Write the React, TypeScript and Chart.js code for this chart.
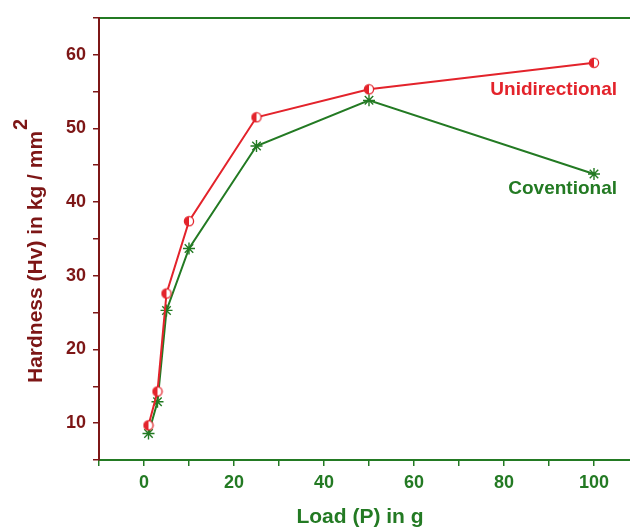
import React, { useEffect, useRef } from "react";
import { Chart, registerables } from "chart.js";

Chart.register(...registerables);

const loads = [1, 3, 5, 10, 25, 50, 100];
const unidirectional = [9.7, 14.3, 27.6, 37.4, 51.5, 55.3, 58.9];
const conventional = [8.6, 12.9, 25.3, 33.7, 47.6, 53.8, 43.8];
const xTicks = [-10, 0, 10, 20, 30, 40, 50, 60, 70, 80, 90, 100];
const yTicks = [5, 10, 15, 20, 25, 30, 35, 40, 45, 50, 55, 60, 65];
const seriesNames = ["Unidirectional", "Coventional"];
const xTitle = "Load (P) in g";
const yTitle = "Hardness (Hv) in kg / mm";
const yTitleSup = "2";

const RED = "#e3232b";
const GREEN = "#237a23";
const DARKRED = "#7d1616";
const FONT = "'Liberation Sans', Arial, sans-serif";

function halfCircle(): HTMLCanvasElement {
  const c = document.createElement("canvas");
  c.width = 12;
  c.height = 12;
  const g = c.getContext("2d")!;
  const cx = 6, cy = 6, r = 4.6;
  g.fillStyle = "#ffffff";
  g.beginPath();
  g.arc(cx, cy, r, 0, Math.PI * 2);
  g.fill();
  g.fillStyle = RED;
  g.beginPath();
  g.arc(cx, cy, r, Math.PI / 2, (Math.PI * 3) / 2);
  g.closePath();
  g.fill();
  g.strokeStyle = RED;
  g.lineWidth = 1.3;
  g.beginPath();
  g.arc(cx, cy, r, 0, Math.PI * 2);
  g.stroke();
  return c;
}

const textPlugin = {
  id: "texts",
  afterDraw(chart: any) {
    const ctx = chart.ctx as CanvasRenderingContext2D;
    ctx.save();
    // series labels
    ctx.font = `bold 19px ${FONT}`;
    ctx.textAlign = "right";
    ctx.textBaseline = "alphabetic";
    ctx.fillStyle = RED;
    ctx.fillText(seriesNames[0], 617, 95);
    ctx.fillStyle = GREEN;
    ctx.fillText(seriesNames[1], 617, 194);
    // x title
    ctx.font = `bold 21px ${FONT}`;
    ctx.textAlign = "center";
    ctx.fillStyle = GREEN;
    ctx.fillText(xTitle, 360, 523);
    // y title rotated
    ctx.translate(42, 383);
    ctx.rotate(-Math.PI / 2);
    ctx.textAlign = "left";
    ctx.fillStyle = DARKRED;
    ctx.font = `bold 21px ${FONT}`;
    ctx.fillText(yTitle, 0, 0);
    const w = ctx.measureText(yTitle).width;
    ctx.font = `bold 20px ${FONT}`;
    ctx.fillText(yTitleSup, w + 1, -15);
    ctx.restore();
  },
};

export default function App() {
  const ref = useRef<HTMLCanvasElement>(null);
  useEffect(() => {
    if (!ref.current) return;
    const marker = halfCircle();
    const chart = new Chart(ref.current, {
      type: "line",
      data: {
        datasets: [
          {
            label: seriesNames[0],
            data: loads.map((x, i) => ({ x, y: unidirectional[i] })),
            borderColor: RED,
            borderWidth: 2,
            pointStyle: marker as any,
            pointRadius: 5,
            tension: 0,
          },
          {
            label: seriesNames[1],
            data: loads.map((x, i) => ({ x, y: conventional[i] })),
            borderColor: GREEN,
            backgroundColor: GREEN,
            borderWidth: 2,
            pointStyle: "star",
            pointRadius: 6,
            pointBorderWidth: 1.4,
            pointBorderColor: GREEN,
            tension: 0,
          },
        ],
      },
      options: {
        responsive: false,
        animation: false,
        layout: { autoPadding: false, padding: { left: 0, right: 0, top: 16, bottom: 0 } },
        plugins: {
          legend: { display: false },
          tooltip: { enabled: false },
        },
        scales: {
          x: {
            type: "linear",
            position: "bottom",
            min: -10,
            max: 108,
            afterBuildTicks: (s: any) => {
              s.ticks = xTicks.map((v) => ({ value: v }));
            },
            afterFit: (s: any) => {
              s.height = 67;
            },
            ticks: {
              autoSkip: false,
              maxRotation: 0,
              padding: 6,
              color: GREEN,
              font: { family: FONT, size: 18, weight: "bold" },
              callback: (v: any) => (Number(v) % 20 === 0 ? String(v) : ""),
            },
            grid: {
              drawOnChartArea: false,
              drawTicks: true,
              tickLength: 6,
              color: GREEN,
              lineWidth: 1.5,
            },
            border: { display: true, color: GREEN, width: 2 },
          },
          x2: {
            type: "linear",
            position: "top",
            min: -10,
            max: 108,
            afterFit: (s: any) => {
              s.height = 0;
            },
            ticks: { display: false },
            grid: { display: false, drawTicks: false },
            border: { display: true, color: GREEN, width: 2 },
          },
          y: {
            type: "linear",
            position: "left",
            min: 5,
            max: 65,
            afterBuildTicks: (s: any) => {
              s.ticks = yTicks.map((v) => ({ value: v }));
            },
            afterFit: (s: any) => {
              s.width = 99;
            },
            ticks: {
              autoSkip: false,
              padding: 7,
              color: DARKRED,
              font: { family: FONT, size: 18, weight: "bold" },
              callback: (v: any) => (Number(v) % 10 === 0 ? String(v) : ""),
            },
            grid: {
              drawOnChartArea: false,
              drawTicks: true,
              tickLength: 6,
              color: DARKRED,
              lineWidth: 1.5,
            },
            border: { display: true, color: DARKRED, width: 2 },
          },
        },
      },
      plugins: [textPlugin],
    });
    return () => chart.destroy();
  }, []);
  return (
    <div style={{ position: "absolute", left: 0, top: 0, width: 630, height: 527, background: "#fff" }}>
      <canvas ref={ref} width={630} height={527} style={{ display: "block" }} />
    </div>
  );
}
